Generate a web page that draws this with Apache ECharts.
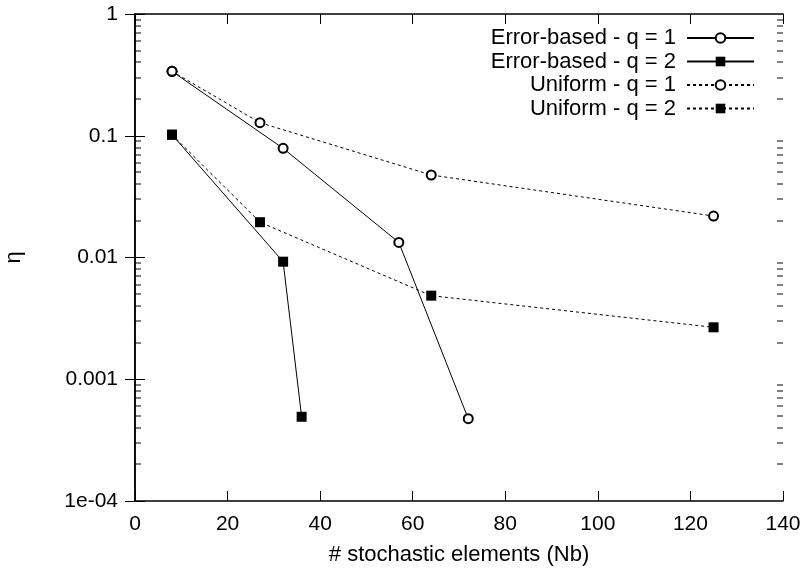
<!DOCTYPE html>
<html>
<head>
<meta charset="utf-8">
<script src="https://cdn.jsdelivr.net/npm/echarts@6/dist/echarts.min.js"></script>
<style>html,body{margin:0;padding:0;background:#fff}#c{width:806px;height:572px}</style>
</head>
<body>
<div id="c"></div>
<script>
// ---- data ----
const seriesNames = ['Error-based - q = 1', 'Error-based - q = 2', 'Uniform - q = 1', 'Uniform - q = 2'];
const errQ1X = [8, 32, 57, 72];
const errQ1Y = [0.338, 0.0788, 0.0133, 0.000474];
const errQ2X = [8, 32, 36];
const errQ2Y = [0.102, 0.00924, 0.000492];
const uniQ1X = [8, 27, 64, 125];
const uniQ1Y = [0.338, 0.128, 0.0476, 0.0219];
const uniQ2X = [8, 27, 64, 125];
const uniQ2Y = [0.102, 0.0195, 0.00486, 0.00267];
const xTickLabels = ['0', '20', '40', '60', '80', '100', '120', '140'];
const yTickValues = [1, 0.1, 0.01, 0.001, 0.0001];
const yTickLabels = ['1', '0.1', '0.01', '0.001', '1e-04'];
const minorMultipliers = [2, 3, 4, 5, 6, 7, 8, 9];
const xAxisName = '# stochastic elements (Nb)';
const yAxisName = 'η';

const pairs = (xs, ys) => xs.map((x, i) => [x, ys[i]]);
const minorVals = [];
yTickValues.slice(1).forEach(d => minorMultipliers.forEach(m => minorVals.push(m * d)));

const FONT = 'Liberation Sans, Arial, sans-serif';
const FS = 21;
const LFS = 22;
const chart = echarts.init(document.getElementById('c'), null, {renderer: 'canvas'});
const frameLine = {show: true, lineStyle: {color: '#000', width: 1.5}};
const yLabel = v => {
  for (let i = 0; i < yTickValues.length; i++) if (Math.abs(Math.log10(v) - Math.log10(yTickValues[i])) < 1e-6) return yTickLabels[i];
  return '';
};
chart.setOption({
  animation: false,
  backgroundColor: '#fff',
  textStyle: {fontFamily: FONT, color: '#000'},
  grid: {left: 135, right: 23, top: 14, bottom: 71, containLabel: false, outerBoundsMode: 'none'},
  legend: {
    data: seriesNames,
    orient: 'vertical',
    align: 'right',
    right: 46,
    top: 22,
    itemWidth: 67,
    itemHeight: 12,
    itemGap: 1.5,
    textStyle: {fontFamily: FONT, fontSize: LFS, color: '#000', padding: [0, 6, 0, 0]},
    inactiveColor: '#000'
  },
  xAxis: [{
    type: 'value', min: 0, max: 140, interval: 20, position: 'bottom',
    name: xAxisName, nameLocation: 'middle', nameGap: 43,
    nameTextStyle: {fontFamily: FONT, fontSize: LFS, color: '#000'},
    axisLine: frameLine,
    axisTick: {show: true, inside: true, length: 10, lineStyle: {color: '#000', width: 1}},
    axisLabel: {fontFamily: FONT, fontSize: FS, color: '#000', margin: 13, formatter: (v) => xTickLabels[Math.round(v / 20)]},
    splitLine: {show: false}
  }, {
    type: 'value', min: 0, max: 140, interval: 20, position: 'top',
    axisLine: frameLine,
    axisTick: {show: true, inside: true, length: 10, lineStyle: {color: '#000', width: 1}},
    axisLabel: {show: false},
    splitLine: {show: false}
  }],
  yAxis: [{
    type: 'log', logBase: 10, min: 0.0001, max: 1, position: 'left',
    name: yAxisName, nameLocation: 'middle', nameGap: 110,
    nameTextStyle: {fontFamily: FONT, fontSize: LFS, color: '#000'},
    axisLine: frameLine,
    axisTick: {show: true, inside: true, length: 10, lineStyle: {color: '#000', width: 1}},
    axisLabel: {fontFamily: FONT, fontSize: FS, color: '#000', margin: 17, formatter: yLabel},
    splitLine: {show: false},
    minorTick: {show: false}
  }, {
    type: 'log', logBase: 10, min: 0.0001, max: 1, position: 'right',
    axisLine: frameLine,
    axisTick: {show: true, inside: true, length: 10, lineStyle: {color: '#000', width: 1}},
    axisLabel: {show: false},
    splitLine: {show: false},
    minorTick: {show: false}
  }],
  series: [
    {
      name: seriesNames[0], type: 'line', data: pairs(errQ1X, errQ1Y),
      symbol: 'emptyCircle', symbolSize: 9,
      lineStyle: {color: '#000', width: 1, type: 'solid'},
      itemStyle: {color: '#000', borderColor: '#000', borderWidth: 1}
    },
    {
      name: seriesNames[1], type: 'line', data: pairs(errQ2X, errQ2Y),
      symbol: 'rect', symbolSize: 10,
      lineStyle: {color: '#000', width: 1, type: 'solid'},
      itemStyle: {color: '#000'}
    },
    {
      name: seriesNames[2], type: 'line', data: pairs(uniQ1X, uniQ1Y),
      symbol: 'emptyCircle', symbolSize: 9,
      lineStyle: {color: '#000', width: 1, type: [3, 3]},
      itemStyle: {color: '#000', borderColor: '#000', borderWidth: 1}
    },
    {
      name: seriesNames[3], type: 'line', data: pairs(uniQ2X, uniQ2Y),
      symbol: 'rect', symbolSize: 10,
      lineStyle: {color: '#000', width: 1, type: [3, 3]},
      itemStyle: {color: '#000'}
    }
  ]
});

// minor ticks of the log axis, positioned through the chart's own scales
const tickEls = [];
minorVals.forEach(v => {
  const pl = chart.convertToPixel({gridIndex: 0}, [0, v]);
  const pr = chart.convertToPixel({gridIndex: 0}, [140, v]);
  const y = Math.round(pl[1]) - 0.5;
  tickEls.push({type: 'rect', shape: {x: pl[0], y: y, width: 6, height: 1}, style: {fill: '#000'}, silent: true, z: 100});
  tickEls.push({type: 'rect', shape: {x: pr[0] - 6, y: y, width: 6, height: 1}, style: {fill: '#000'}, silent: true, z: 100});
});
chart.setOption({graphic: {elements: tickEls}});
</script>
</body>
</html>
